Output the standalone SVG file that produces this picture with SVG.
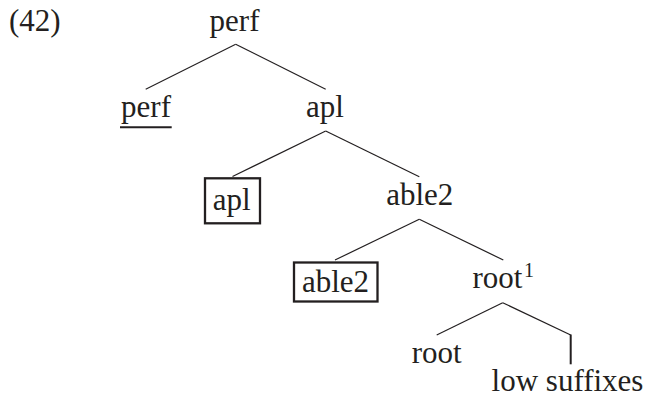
<svg xmlns="http://www.w3.org/2000/svg" width="648" height="398" viewBox="0 0 648 398">
<style>
text{font-family:"Liberation Serif","Times New Roman",serif;font-size:31px;fill:#231f20;text-anchor:middle}
.ln{stroke:#231f20;stroke-width:1.2;fill:none}
.bx{stroke:#231f20;stroke-width:2.3;fill:none}
.sup{font-size:20px;text-anchor:start}
</style>
<rect width="648" height="398" fill="#fff"/>
<text x="9" y="31" style="text-anchor:start">(42)</text>
<g id="connectors">
<line class="ln" x1="235.7" y1="44.3" x2="145.7" y2="89.3"/>
<line class="ln" x1="235.7" y1="44.3" x2="325.7" y2="89.3"/>
<line class="ln" x1="325.7" y1="131" x2="232.5" y2="176.5"/>
<line class="ln" x1="325.7" y1="131" x2="419.3" y2="176.7"/>
<line class="ln" x1="419.3" y1="219.3" x2="335" y2="260"/>
<line class="ln" x1="419.3" y1="219.3" x2="503.3" y2="260"/>
<line class="ln" x1="502.7" y1="302.7" x2="436.7" y2="335"/>
<line class="ln" x1="502.7" y1="302.7" x2="570.7" y2="335"/>
<line x1="570.7" y1="334.5" x2="570.7" y2="364.3" stroke="#231f20" stroke-width="2"/>
</g>
<g id="n-perf-top"><text x="234.5" y="31">perf</text></g>
<g id="n-perf"><text x="146" y="116.5">perf</text><line x1="120" y1="127.3" x2="171.7" y2="127.3" stroke="#231f20" stroke-width="2"/></g>
<g id="n-apl"><text x="325" y="116.5">apl</text></g>
<g id="n-apl-box"><rect class="bx" x="205" y="178.3" width="55" height="45"/><text x="231.8" y="209.5">apl</text></g>
<g id="n-able2"><text x="419.7" y="205">able2</text></g>
<g id="n-able2-box"><rect class="bx" x="294" y="262.5" width="83.5" height="39"/><text x="335.5" y="291.7">able2</text></g>
<g id="n-root1"><text x="497.5" y="288.3">root</text><text class="sup" x="524" y="277">1</text></g>
<g id="n-root"><text x="436.7" y="363">root</text></g>
<g id="n-low"><text x="567.5" y="391">low suffixes</text></g>
</svg>
